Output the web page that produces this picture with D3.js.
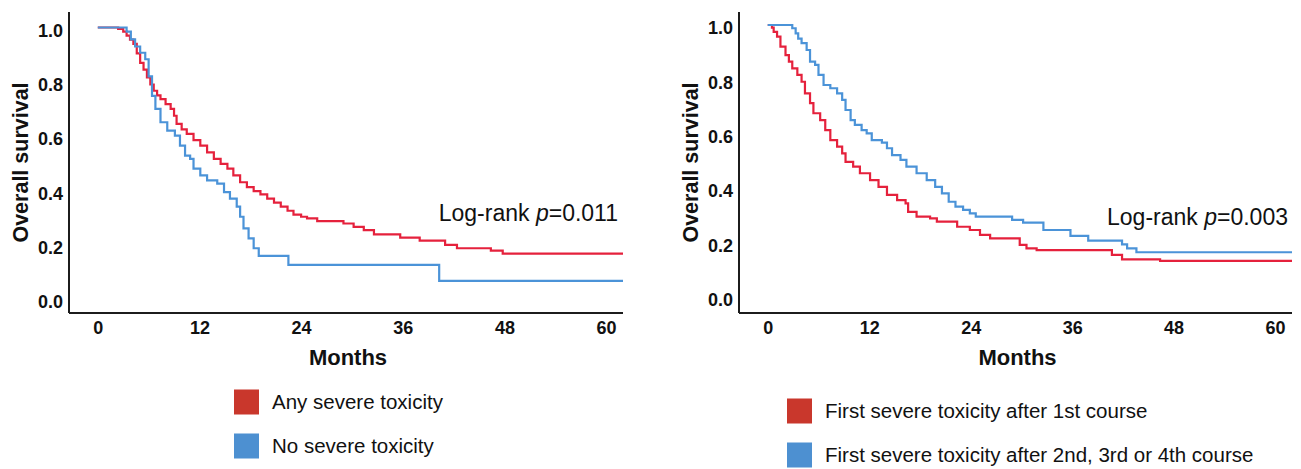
<!DOCTYPE html>
<html>
<head>
<meta charset="utf-8">
<script src="https://cdn.jsdelivr.net/npm/d3@7"></script>
<style>
  html, body { margin: 0; padding: 0; background: #fff; }
  svg { display: block; font-family: "Liberation Sans", Arial, sans-serif; }
</style>
</head>
<body>
<svg id="chart" width="1301" height="469"></svg>
<script>
// ---------- DATA ----------
const xTicks = [0, 12, 24, 36, 48, 60];
const yTicks = [0.0, 0.2, 0.4, 0.6, 0.8, 1.0];
const xTitle = "Months";
const yTitle = "Overall survival";

// Left panel: Any severe toxicity vs No severe toxicity
const leftSeriesNames = ["Any severe toxicity", "No severe toxicity"];
const leftPValue = "0.011";
const anyToxMonths = [0, 2.4, 3.0, 3.4, 3.8, 4.2, 4.6, 5.0, 5.4, 5.8, 6.2, 6.6, 7.0, 7.4, 8.0, 8.6, 9.0, 9.3, 9.9, 10.5,
  11.3, 12.1, 12.9, 13.7, 14.5, 15.3, 16.0, 16.8, 17.6, 18.4, 19.2, 20.0, 20.8, 21.6, 22.4, 23.1, 24.0, 24.7, 25.9, 29.0,
  30.2, 31.4, 32.6, 35.7, 38.0, 41.0, 42.4, 46.4, 47.8];
const anyToxSurv = [1.0, 0.995, 0.985, 0.97, 0.955, 0.94, 0.905, 0.87, 0.845, 0.816, 0.79, 0.767, 0.75, 0.736, 0.718, 0.70, 0.675, 0.645, 0.625, 0.608,
  0.585, 0.565, 0.54, 0.516, 0.498, 0.48, 0.455, 0.43, 0.412, 0.397, 0.385, 0.37, 0.355, 0.34, 0.325, 0.311, 0.303, 0.297, 0.287, 0.278,
  0.266, 0.254, 0.238, 0.226, 0.215, 0.199, 0.187, 0.178, 0.167];
const noToxMonths = [0, 3.4, 3.9, 4.4, 5.0, 5.6, 6.0, 6.4, 6.8, 7.4, 8.2, 9.1, 9.7, 10.3, 10.9, 11.3, 12.1, 12.9, 14.1, 14.9,
  15.6, 16.4, 16.8, 17.2, 17.8, 18.4, 19.0, 22.5, 40.3];
const noToxSurv = [1.0, 0.985, 0.956, 0.93, 0.907, 0.883, 0.82, 0.748, 0.70, 0.651, 0.62, 0.602, 0.565, 0.528, 0.516, 0.48, 0.455, 0.437, 0.425, 0.394,
  0.37, 0.34, 0.303, 0.26, 0.223, 0.187, 0.159, 0.126, 0.067];

// Right panel: first severe toxicity after 1st course vs later courses
const rightSeriesNames = ["First severe toxicity after 1st course", "First severe toxicity after 2nd, 3rd or 4th course"];
const rightPValue = "0.003";
const firstCourseMonths = [0, 0.5, 0.7, 1.1, 1.5, 2.1, 2.5, 2.9, 3.5, 4.0, 4.4, 5.0, 5.4, 6.2, 6.8, 7.4, 8.2, 8.8, 9.2, 10.1,
  10.9, 12.1, 13.1, 14.1, 15.3, 16.3, 16.6, 17.6, 19.2, 20.0, 22.4, 23.9, 25.1, 26.3, 29.8, 30.6, 31.8, 40.7, 41.9, 46.4];
const firstCourseSurv = [1.0, 0.99, 0.975, 0.957, 0.92, 0.889, 0.865, 0.84, 0.816, 0.791, 0.748, 0.712, 0.675, 0.65, 0.613, 0.576, 0.552, 0.527, 0.496, 0.478,
  0.454, 0.429, 0.404, 0.374, 0.355, 0.343, 0.312, 0.294, 0.288, 0.276, 0.257, 0.245, 0.227, 0.214, 0.19, 0.177, 0.171, 0.153, 0.137, 0.131];
const laterCourseMonths = [0, 2.9, 3.3, 3.6, 4.0, 4.6, 5.0, 5.6, 6.0, 6.6, 7.4, 8.2, 8.8, 9.2, 9.8, 10.3, 11.1, 11.7, 12.3, 13.5,
  14.1, 14.7, 15.7, 16.4, 17.6, 18.8, 19.8, 20.6, 21.4, 22.2, 23.1, 23.9, 24.6, 28.9, 30.2, 32.6, 35.8, 37.9, 41.9, 42.5, 43.6];
const laterCourseSurv = [1.0, 0.988, 0.969, 0.95, 0.933, 0.908, 0.865, 0.853, 0.816, 0.779, 0.767, 0.748, 0.724, 0.687, 0.65, 0.632, 0.613, 0.601, 0.576, 0.567,
  0.546, 0.521, 0.503, 0.478, 0.454, 0.429, 0.404, 0.38, 0.349, 0.331, 0.319, 0.306, 0.294, 0.282, 0.272, 0.245, 0.223, 0.206, 0.192, 0.177, 0.163];

const xDomain = [-3.4, 62];

// ---------- STYLE ----------
const lineRed = "#e5213c", lineBlue = "#4b93d8";
const legRed = "#c9372c", legBlue = "#4d90d1";
const axisColor = "#1c1c1c";
const tickFont = "'Liberation Sans Narrow', 'Arial Narrow', 'Liberation Sans', Arial, sans-serif";

const svg = d3.select("#chart");

function panel(cfg) {
  const g = svg.append("g");
  const x = d3.scaleLinear().domain(xDomain).range([cfg.left, cfg.right]);
  const y = d3.scaleLinear().domain([0, 1]).range([cfg.y0, cfg.y1]);

  const xAxis = d3.axisBottom(x).tickValues(xTicks).tickSize(0).tickPadding(0).tickFormat(d3.format("d"));
  const xg = g.append("g").attr("transform", `translate(0,${cfg.axisY})`).call(xAxis);
  xg.attr("font-family", tickFont).attr("font-size", 18);
  xg.select(".domain").attr("d", `M${cfg.left},0H${cfg.right}`).attr("stroke", axisColor).attr("stroke-width", 2);
  xg.selectAll(".tick text")
    .attr("y", 15).attr("dy", "0.35em")
    .attr("font-weight", "bold").attr("fill", "#111");

  const yAxis = d3.axisLeft(y).tickValues(yTicks).tickSize(0).tickPadding(0).tickFormat(d3.format(".1f"));
  const yg = g.append("g").attr("transform", `translate(${cfg.left},0)`).call(yAxis);
  yg.attr("font-family", tickFont).attr("font-size", 18);
  yg.select(".domain").attr("d", `M0,${cfg.axisTop}V${cfg.axisY}`).attr("stroke", axisColor).attr("stroke-width", 2);
  yg.selectAll(".tick text")
    .attr("x", -6).attr("dy", "0.35em")
    .attr("transform", "translate(0,2.5)")
    .attr("font-weight", "bold").attr("fill", "#111");

  g.append("text")
    .attr("x", (cfg.left + cfg.right) / 2 + 2).attr("y", 357).attr("dy", "0.35em")
    .attr("text-anchor", "middle").attr("font-size", 22).attr("font-weight", "bold").attr("fill", "#111")
    .text(xTitle);
  g.append("text")
    .attr("transform", `translate(${cfg.left - 49},${(cfg.axisTop + cfg.axisY) / 2}) rotate(-90)`)
    .attr("dy", "0.35em")
    .attr("text-anchor", "middle").attr("font-size", 21.5).attr("font-weight", "bold").attr("fill", "#111")
    .text(yTitle);

  const line = d3.line().x(d => x(d[0])).y(d => y(d[1])).curve(d3.curveStepAfter);
  cfg.series.forEach(s => {
    const pts = s.months.map((m, i) => [m, s.surv[i]]);
    pts.push([xDomain[1], s.surv[s.surv.length - 1]]);
    g.append("path").datum(pts)
      .attr("d", line).attr("fill", "none")
      .attr("stroke", s.color).attr("stroke-width", 2.2);
  });

  const t = g.append("text")
    .attr("x", cfg.pX).attr("y", cfg.pY).attr("dy", "0.35em")
    .attr("text-anchor", "end").attr("font-size", 23).attr("fill", "#111");
  t.append("tspan").text("Log-rank ");
  t.append("tspan").attr("font-style", "italic").text("p");
  t.append("tspan").text("=" + cfg.p);

  cfg.series.forEach((s, i) => {
    const ly = cfg.legY + i * cfg.legGap;
    g.append("rect").attr("x", cfg.legX).attr("y", ly - 12.5).attr("width", 25).attr("height", 25)
      .attr("fill", s.legColor);
    g.append("text").attr("x", cfg.legX + 38).attr("y", ly).attr("dy", "0.35em")
      .attr("font-size", 20.5).attr("fill", "#111").text(s.name);
  });
}

panel({
  left: 69, right: 623, axisTop: 12, axisY: 313, y0: 299, y1: 27.5,
  p: leftPValue, pX: 618, pY: 213,
  legX: 234, legY: 402, legGap: 44,
  series: [
    { name: leftSeriesNames[0], months: anyToxMonths, surv: anyToxSurv, color: lineRed, legColor: legRed },
    { name: leftSeriesNames[1], months: noToxMonths, surv: noToxSurv, color: lineBlue, legColor: legBlue }
  ]
});

panel({
  left: 739, right: 1292, axisTop: 12, axisY: 313, y0: 296.5, y1: 25,
  p: rightPValue, pX: 1288, pY: 217,
  legX: 787, legY: 411, legGap: 44,
  series: [
    { name: rightSeriesNames[0], months: firstCourseMonths, surv: firstCourseSurv, color: lineRed, legColor: legRed },
    { name: rightSeriesNames[1], months: laterCourseMonths, surv: laterCourseSurv, color: lineBlue, legColor: legBlue }
  ]
});
</script>
</body>
</html>
